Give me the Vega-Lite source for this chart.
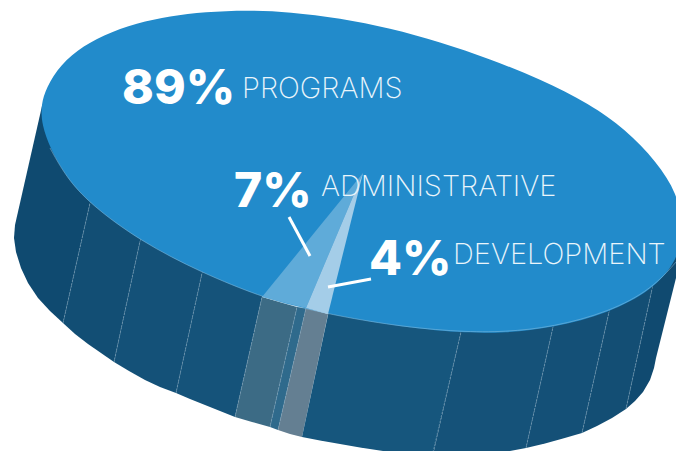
{"$schema":"https://vega.github.io/schema/vega-lite/v6.json","width":676,"height":451,"padding":0,"autosize":{"type":"none"},"background":"white","config":{"view":{"stroke":null}},
"datasets":{
"top":[{"i":1,"x":41,"y":108},{"i":2,"x":44,"y":93},{"i":3,"x":56,"y":70},{"i":4,"x":77,"y":50},{"i":5,"x":103,"y":35},{"i":6,"x":137,"y":23},{"i":7,"x":170,"y":16},{"i":8,"x":205,"y":12},{"i":9,"x":247,"y":10},{"i":10,"x":290,"y":12},{"i":11,"x":340,"y":18},{"i":12,"x":390,"y":28},{"i":13,"x":440,"y":42},{"i":14,"x":490,"y":59},{"i":15,"x":540,"y":79},{"i":16,"x":590,"y":104},{"i":17,"x":625,"y":129},{"i":18,"x":657,"y":162},{"i":19,"x":677,"y":193},{"i":20,"x":684,"y":228},{"i":21,"x":677,"y":262},{"i":22,"x":652,"y":290},{"i":23,"x":609,"y":313},{"i":24,"x":553,"y":328},{"i":25,"x":505,"y":333},{"i":26,"x":461,"y":333},{"i":27,"x":395,"y":326},{"i":28,"x":328,"y":314},{"i":29,"x":295,"y":306},{"i":30,"x":262,"y":297},{"i":31,"x":202,"y":273},{"i":32,"x":140,"y":241},{"i":33,"x":90,"y":204},{"i":34,"x":66,"y":177},{"i":35,"x":50,"y":148},{"i":36,"x":42,"y":125}],
"rim":[{"i":1,"x":677,"y":261},{"i":2,"x":652,"y":289},{"i":3,"x":609,"y":312},{"i":4,"x":553,"y":327},{"i":5,"x":505,"y":332},{"i":6,"x":461,"y":332},{"i":7,"x":395,"y":326},{"i":8,"x":328,"y":314},{"i":9,"x":295,"y":306},{"i":10,"x":262,"y":297},{"i":11,"x":202,"y":273},{"i":12,"x":140,"y":241},{"i":13,"x":90,"y":204},{"i":14,"x":66,"y":177},{"i":15,"x":50,"y":148}],
"walls":[
{"part":"w1","i":1,"x":42,"y":106},{"part":"w1","i":2,"x":60,"y":125},{"part":"w1","i":3,"x":92.7,"y":191},{"part":"w1","i":4,"x":63,"y":323},{"part":"w1","i":5,"x":50,"y":311},{"part":"w1","i":6,"x":38,"y":298},{"part":"w1","i":7,"x":28,"y":283},{"part":"w1","i":8,"x":21,"y":268},{"part":"w1","i":9,"x":16,"y":252},{"part":"w1","i":10,"x":14,"y":238},{"part":"w1","i":11,"x":15,"y":225},
{"part":"w2","i":1,"x":92.7,"y":191},{"part":"w2","i":2,"x":142.7,"y":229},{"part":"w2","i":3,"x":114,"y":362},{"part":"w2","i":4,"x":101,"y":353},{"part":"w2","i":5,"x":88,"y":344},{"part":"w2","i":6,"x":75,"y":334},{"part":"w2","i":7,"x":63,"y":323},
{"part":"w3","i":1,"x":142.7,"y":229},{"part":"w3","i":2,"x":204.7,"y":261},{"part":"w3","i":3,"x":176,"y":393},{"part":"w3","i":4,"x":160,"y":387},{"part":"w3","i":5,"x":145,"y":380},{"part":"w3","i":6,"x":129,"y":371},{"part":"w3","i":7,"x":114,"y":362},
{"part":"w4","i":1,"x":204.7,"y":261},{"part":"w4","i":2,"x":264.7,"y":285},{"part":"w4","i":3,"x":235,"y":417},{"part":"w4","i":4,"x":220,"y":411},{"part":"w4","i":5,"x":205,"y":405},{"part":"w4","i":6,"x":190,"y":399},{"part":"w4","i":7,"x":176,"y":393},
{"part":"w5","i":1,"x":262,"y":297},{"part":"w5","i":2,"x":297,"y":307},{"part":"w5","i":3,"x":270,"y":427},{"part":"w5","i":4,"x":252,"y":422},{"part":"w5","i":5,"x":235,"y":417},
{"part":"w6","i":1,"x":297,"y":307},{"part":"w6","i":2,"x":306,"y":308},{"part":"w6","i":3,"x":278,"y":430},{"part":"w6","i":4,"x":270,"y":427},
{"part":"w7","i":1,"x":306,"y":308},{"part":"w7","i":2,"x":328,"y":314},{"part":"w7","i":3,"x":302,"y":437},{"part":"w7","i":4,"x":290,"y":434},{"part":"w7","i":5,"x":278,"y":430},
{"part":"w8","i":1,"x":330.5,"y":303},{"part":"w8","i":2,"x":463.7,"y":320},{"part":"w8","i":3,"x":433,"y":455},{"part":"w8","i":4,"x":383,"y":451},{"part":"w8","i":5,"x":360,"y":447.5},{"part":"w8","i":6,"x":340,"y":444},{"part":"w8","i":7,"x":320,"y":440.5},{"part":"w8","i":8,"x":302,"y":437},
{"part":"w9","i":1,"x":463.7,"y":320},{"part":"w9","i":2,"x":555.7,"y":315},{"part":"w9","i":3,"x":526,"y":448},{"part":"w9","i":4,"x":510,"y":451},{"part":"w9","i":5,"x":433,"y":455},
{"part":"w10","i":1,"x":555.7,"y":315},{"part":"w10","i":2,"x":611.7,"y":300},{"part":"w10","i":3,"x":582,"y":433},{"part":"w10","i":4,"x":563,"y":438.5},{"part":"w10","i":5,"x":545,"y":443.5},{"part":"w10","i":6,"x":526,"y":448},
{"part":"w11","i":1,"x":611.7,"y":300},{"part":"w11","i":2,"x":654.7,"y":277},{"part":"w11","i":3,"x":626,"y":409},{"part":"w11","i":4,"x":612,"y":418},{"part":"w11","i":5,"x":597,"y":426},{"part":"w11","i":6,"x":582,"y":433},
{"part":"w12","i":1,"x":654.7,"y":277},{"part":"w12","i":2,"x":678,"y":250},{"part":"w12","i":3,"x":678,"y":270},{"part":"w12","i":4,"x":656,"y":358},{"part":"w12","i":5,"x":654,"y":368},{"part":"w12","i":6,"x":650,"y":380},{"part":"w12","i":7,"x":643,"y":392},{"part":"w12","i":8,"x":635,"y":401},{"part":"w12","i":9,"x":626,"y":409},
{"part":"Administrative","i":1,"x":363,"y":173},{"part":"Administrative","i":2,"x":306,"y":308},{"part":"Administrative","i":3,"x":262,"y":297},
{"part":"Development","i":1,"x":363,"y":173},{"part":"Development","i":2,"x":328,"y":314},{"part":"Development","i":3,"x":306,"y":308}],
"seams":[
{"s":"a","x":90,"y":203},{"s":"a","x":63,"y":323},{"s":"b","x":140,"y":241},{"s":"b","x":114,"y":362},{"s":"c","x":202,"y":273},{"s":"c","x":176,"y":393},{"s":"d","x":262,"y":297},{"s":"d","x":235,"y":417},{"s":"e","x":297,"y":307},{"s":"e","x":270,"y":427},{"s":"f","x":306,"y":308},{"s":"f","x":278,"y":430},{"s":"g","x":461,"y":332},{"s":"g","x":433,"y":452},{"s":"h","x":553,"y":327},{"s":"h","x":526,"y":448},{"s":"i","x":609,"y":312},{"s":"i","x":582,"y":433},{"s":"j","x":652,"y":289},{"s":"j","x":626,"y":409}],
"leaders":[{"s":"a","x":289,"y":217},{"s":"a","x":310,"y":256},{"s":"d","x":371,"y":279},{"s":"d","x":328,"y":287}],
"pct":[{"t":"89%","x":122,"y":104},{"t":"7%","x":234,"y":207},{"t":"4%","x":369,"y":275}],
"names":[{"t":"PROGRAMS","x":242,"y":98},{"t":"ADMINISTRATIVE","x":321,"y":196},{"t":"DEVELOPMENT","x":453,"y":264}]},
"encoding":{"x":{"field":"x","type":"quantitative","scale":{"domain":[0,676]},"axis":null},"y":{"field":"y","type":"quantitative","scale":{"domain":[451,0],"zero":false},"axis":null}},
"layer":[
{"data":{"name":"walls"},"transform":[{"filter":"datum.part!='Administrative'&&datum.part!='Development'"}],"mark":{"type":"line","filled":true,"clip":true,"strokeWidth":0.5,"strokeOpacity":0},"encoding":{"order":{"field":"i","type":"quantitative"},"color":{"field":"part","type":"nominal","legend":null,"scale":{"domain":["w1","w2","w3","w4","w5","w6","w7","w8","w9","w10","w11","w12"],"range":["#0f4a70","#124e74","#145178","#15537a","#3c6b85","#2f6a8c","#647f92","#16567d","#155279","#145077","#134e74","#104a70"]}}}},
{"data":{"name":"seams"},"mark":{"type":"line","clip":true,"color":"#7fa3bb","strokeWidth":0.7,"strokeDash":[2,1],"opacity":0.8},"encoding":{"detail":{"field":"s"}}},
{"data":{"name":"top"},"mark":{"type":"line","filled":true,"clip":true,"interpolate":"basis-closed","color":"#228bcb"},"encoding":{"order":{"field":"i","type":"quantitative"}}},
{"data":{"name":"rim"},"mark":{"type":"line","clip":true,"interpolate":"basis","color":"#8cc0e0","strokeWidth":0.5},"encoding":{"order":{"field":"i","type":"quantitative"}}},
{"data":{"name":"walls"},"transform":[{"filter":"datum.part=='Administrative'||datum.part=='Development'"}],"mark":{"type":"line","filled":true,"clip":true},"encoding":{"order":{"field":"i","type":"quantitative"},"color":{"field":"part","type":"nominal","legend":null,"scale":{"domain":["Administrative","Development"],"range":["#5fabd9","#a4cde8"]}}}},
{"data":{"name":"leaders"},"mark":{"type":"line","color":"white","strokeWidth":3},"encoding":{"detail":{"field":"s"}}},
{"data":{"name":"pct"},"mark":{"type":"text","align":"left","baseline":"alphabetic","font":"Inter","fontWeight":800,"fontSize":48,"color":"white"},"encoding":{"text":{"field":"t"}}},
{"data":{"name":"names"},"mark":{"type":"text","align":"left","baseline":"alphabetic","font":"Inter","fontWeight":200,"fontSize":29,"color":"#eaf5fb"},"encoding":{"text":{"field":"t"}}}
],
"resolve":{"scale":{"color":"independent"}}}
